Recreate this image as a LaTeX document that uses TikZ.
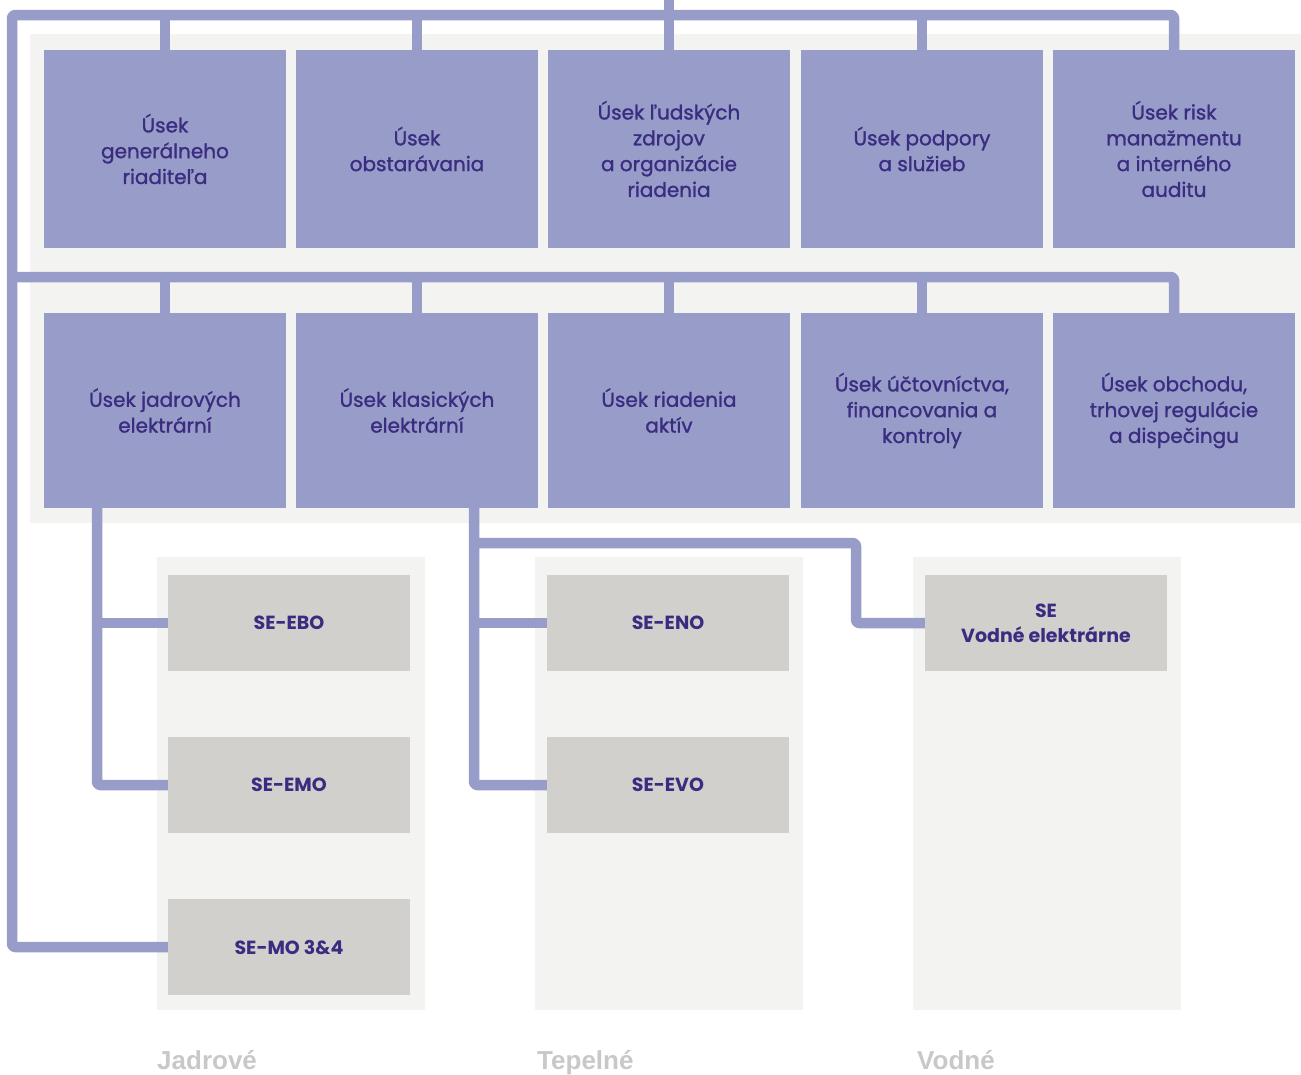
\documentclass[tikz,border=0pt]{standalone}
\usepackage{fontspec}
\setmainfont{Poppins}
\newfontfamily\medfont{Poppins}[FakeBold=1.2]
\newfontfamily\labfont{Liberation Sans}
\definecolor{lav}{HTML}{979CC8}
\definecolor{txt}{HTML}{3A2C80}
\definecolor{pan}{HTML}{F3F3F1}
\definecolor{gbox}{HTML}{D1D0CC}
\definecolor{lab}{HTML}{C8C8C8}
\tikzset{
  unit/.style={fill=lav, text=txt, minimum width=242pt, inner sep=0pt, align=center,
    font=\medfont\fontsize{20}{25.8}\selectfont},
  toprow/.style={unit, minimum height=198pt},
  secrow/.style={unit, minimum height=195pt},
  plant/.style={fill=gbox, text=txt, minimum width=242pt, minimum height=96pt, inner sep=0pt,
    align=center, font=\fontsize{19}{25}\selectfont\bfseries},
  conn/.style={draw=lav, line width=10.5pt, rounded corners=3pt, line join=round},
  panel/.style={fill=pan, draw=none},
  grp/.style={text=lab, anchor=base west, inner sep=0pt, font=\labfont\fontsize{26}{30}\selectfont\bfseries}
}
\begin{document}
\begin{tikzpicture}[x=1pt,y=-1pt]
\useasboundingbox (0,0) rectangle (1301,1074);
% panels
\fill[panel] (30,34) rectangle (1301,523);
\fill[panel] (157,557) rectangle (425,1010);
\fill[panel] (535,557) rectangle (803,1010);
\fill[panel] (913,557) rectangle (1181,1010);
% top row
\node[toprow] (b1) at (165,149) {Úsek\\generálneho\\riaditeľa};
\node[toprow] (b2) at (417,149) {Úsek\\obstarávania};
\node[toprow] (b3) at (669,149) {Úsek ľudských\\zdrojov\\a organizácie\\riadenia};
\node[toprow] (b4) at (922,149) {Úsek podpory\\a služieb};
\node[toprow] (b5) at (1174,149) {Úsek risk\\manažmentu\\a interného\\auditu};
% second row
\node[secrow] (r1) at (165,410.5) {Úsek jadrových\\elektrární};
\node[secrow] (r2) at (417,410.5) {Úsek klasických\\elektrární};
\node[secrow] (r3) at (669,410.5) {Úsek riadenia\\aktív};
\node[secrow] (r4) at (922,410.5) {Úsek účtovníctva,\\financovania a\\kontroly};
\node[secrow] (r5) at (1174,410.5) {Úsek obchodu,\\trhovej regulácie\\a dispečingu};
% plants
\node[plant] (ebo) at (289,623) {SE-EBO};
\node[plant] (emo) at (289,785) {SE-EMO};
\node[plant] (mo34) at (289,947) {SE-MO 3\&4};
\node[plant] (eno) at (668,623) {SE-ENO};
\node[plant] (evo) at (668,785) {SE-EVO};
\node[plant] (vod) at (1046,623) {SE\\Vodné elektrárne};
% group labels
\node[grp] (gj) at (157,1069) {Jadrové};
\node[grp] (gt) at (537,1069) {Tepelné};
\node[grp] (gv) at (917,1069) {Vodné};
% coordinates
\coordinate (root) at (669,0);
\coordinate (bus1) at (669,15);
\coordinate (lft) at (12,15);
\coordinate (bus2) at (12,277);
\coordinate (jx) at (97,0);
\coordinate (kx) at (474,0);
\coordinate (vx) at (856,543);
% connectors: top bus and left spine
\draw[conn] (mo34.west) -| (lft) -| (b5.north);
\draw[conn] (root) -- (bus1);
\draw[conn] (b1.north) -- (b1.north |- bus1);
\draw[conn] (b2.north) -- (b2.north |- bus1);
\draw[conn] (b3.north) -- (b3.north |- bus1);
\draw[conn] (b4.north) -- (b4.north |- bus1);
% second bus
\draw[conn] (bus2) -| (r5.north);
\draw[conn] (r1.north) -- (r1.north |- bus2);
\draw[conn] (r2.north) -- (r2.north |- bus2);
\draw[conn] (r3.north) -- (r3.north |- bus2);
\draw[conn] (r4.north) -- (r4.north |- bus2);
% nuclear
\draw[conn] (r1.south -| jx) |- (emo.west);
\draw[conn] (ebo.west) -- (ebo.west -| jx);
% thermal + hydro
\draw[conn] (r2.south -| kx) |- (evo.west);
\draw[conn] (eno.west) -- (eno.west -| kx);
\draw[conn] (vx -| kx) -- (vx) |- (vod.west);
\end{tikzpicture}
\end{document}
